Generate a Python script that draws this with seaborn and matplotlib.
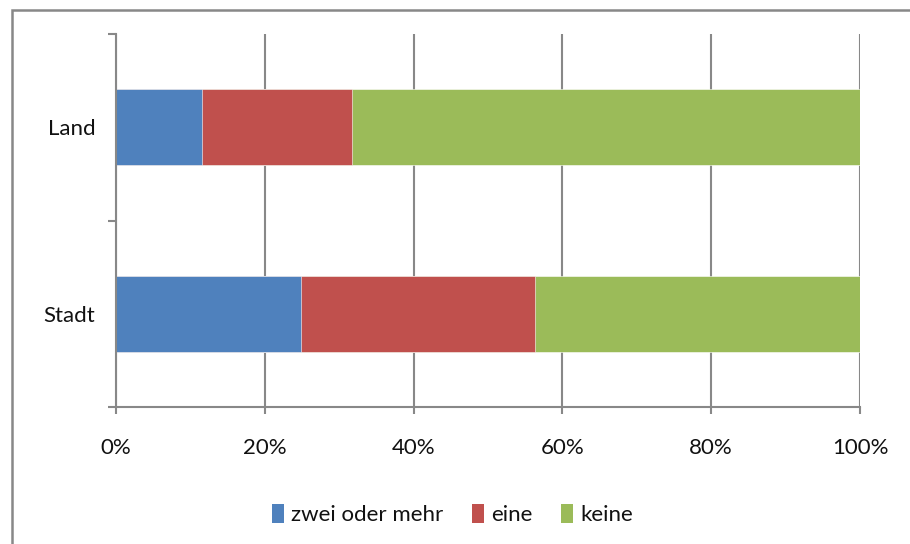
import numpy as np
import pandas as pd
import matplotlib.pyplot as plt
import seaborn as sns
from matplotlib.patches import Patch, Rectangle

# data (share per group, percent)
categories = ["Land", "Stadt"]
series = ["zwei oder mehr", "eine", "keine"]
zwei_oder_mehr = [11.6, 24.8]
eine = [20.1, 31.5]
keine = [68.3, 43.7]
colors = ["#4F81BD", "#C0504D", "#9BBB59"]
xticks = [0, 20, 40, 60, 80, 100]
xticklabels = ["0%", "20%", "40%", "60%", "80%", "100%"]

sns.set_style("white")
plt.rcParams['font.family'] = ['Lato', 'DejaVu Sans']
grid_col = "#888888"
fs = 16

df = pd.DataFrame({"Kategorie": categories,
                   "zwei oder mehr": zwei_oder_mehr,
                   "eine": eine,
                   "keine": keine})
cum = df[series].cumsum(axis=1)
cum["Kategorie"] = df["Kategorie"]

fig = plt.figure(figsize=(9.10, 5.44), dpi=100)
ax = fig.add_axes([116/910, 1-407/544, (860-116)/910, (407-34)/544])

# draw widest first so the stacks show
for s, c in zip(series[::-1], colors[::-1]):
    sns.barplot(data=cum, x=s, y="Kategorie", order=categories, color=c,
                width=0.41, ax=ax, edgecolor="white", linewidth=0.4,
                saturation=1)

ax.set_xlim(0, 100)
ax.set_ylim(1.5, -0.5)
ax.set_xticks(xticks)
ax.set_xticklabels(xticklabels)
ax.set_yticks([-0.5, 0.5, 1.5])
ax.set_yticklabels([])
ax.set_yticks([0, 1], minor=True)
ax.set_yticklabels(categories, minor=True)
ax.tick_params(axis="y", which="minor", length=0, pad=15, labelsize=fs, labelcolor="#111111")
ax.tick_params(axis="y", which="major", length=6, width=1.5, color=grid_col, direction="out", left=True)
ax.tick_params(axis="x", length=5, width=1.5, color=grid_col, direction="out", pad=17, labelsize=fs,
               labelcolor="#111111", bottom=True)
ax.set_xlabel("")
ax.set_ylabel("")

ax.grid(axis="x", color=grid_col, linewidth=1.5)
ax.set_axisbelow(True)
for side in ["top", "right"]:
    ax.spines[side].set_visible(False)
for side in ["left", "bottom"]:
    ax.spines[side].set_color(grid_col)
    ax.spines[side].set_linewidth(1.5)

handles = [Patch(facecolor=c, edgecolor="none") for c in colors]
fig.legend(handles, series, loc="center", bbox_to_anchor=(0.497, 0.054),
           ncol=3, frameon=False, fontsize=fs, handlelength=0.55, handleheight=0.9,
           handletextpad=0.3, columnspacing=1.3, labelcolor="#111111")

# outer chart frame
fig.patches.append(Rectangle((12/910, -0.1), 1.2, 1.1 - 10/544, transform=fig.transFigure,
                             fill=False, edgecolor=grid_col, linewidth=1.8))

fig.savefig("out.png", dpi=100)
